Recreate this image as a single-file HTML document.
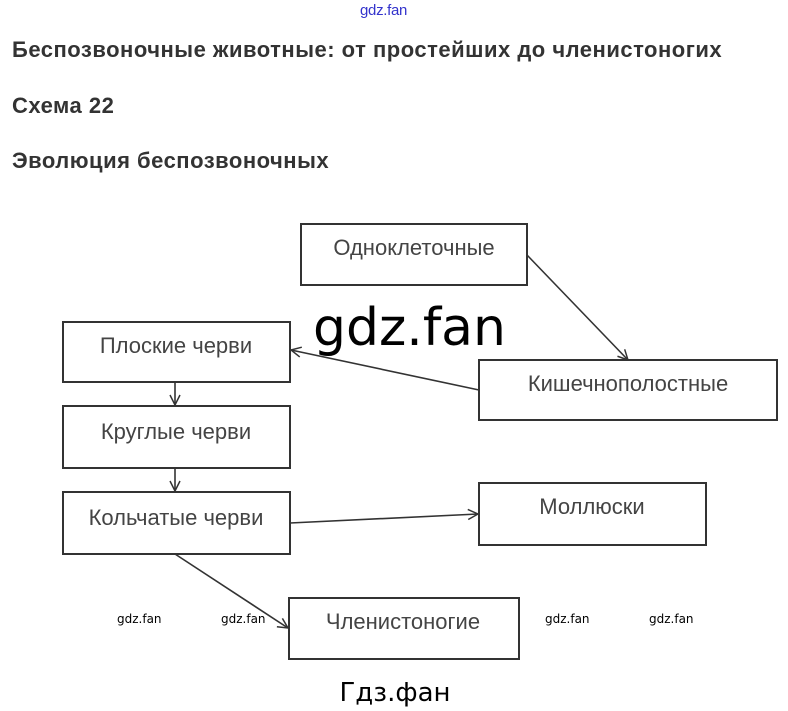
<!DOCTYPE html>
<html><head><meta charset="utf-8"><style>
body{margin:0;background:#fff;width:788px;height:711px;position:relative;overflow:hidden;font-family:"Liberation Sans",sans-serif}
.t{position:absolute;white-space:nowrap}
.h{font-weight:bold;font-size:22px;color:#333;left:12px;letter-spacing:0.5px}
</style></head><body>
<div class="t" style="left:360px;top:2px;font-size:15px;color:#3333cc;font-family:'Liberation Sans',sans-serif;letter-spacing:-0.3px">gdz.fan</div>
<div class="t h" style="top:37px">Беспозвоночные животные: от простейших до членистоногих</div>
<div class="t h" style="top:93px">Схема 22</div>
<div class="t h" style="top:148px">Эволюция беспозвоночных</div>
<svg width="788" height="711" style="position:absolute;left:0;top:0" xmlns="http://www.w3.org/2000/svg">
<defs><marker id="a" markerWidth="12" markerHeight="12" refX="11" refY="6" orient="auto" markerUnits="userSpaceOnUse"><path d="M1,1 L11,6 L1,11" fill="none" stroke="#333" stroke-width="1.5"/></marker></defs>
<g fill="none" stroke="#333" stroke-width="2">
<rect x="301" y="224" width="226" height="61"/>
<rect x="63" y="322" width="227" height="60"/>
<rect x="479" y="360" width="298" height="60"/>
<rect x="63" y="406" width="227" height="62"/>
<rect x="63" y="492" width="227" height="62"/>
<rect x="479" y="483" width="227" height="62"/>
<rect x="289" y="598" width="230" height="61"/>
</g>
<g stroke="#333" stroke-width="1.6" marker-end="url(#a)">
<line x1="527" y1="255" x2="628" y2="360"/>
<line x1="479" y1="390" x2="291" y2="350"/>
<line x1="175" y1="382" x2="175" y2="405"/>
<line x1="175" y1="468" x2="175" y2="491"/>
<line x1="290" y1="523" x2="478" y2="514"/>
<line x1="175" y1="554" x2="288" y2="628"/>
</g>
<g font-family="Liberation Sans, sans-serif" font-size="22" fill="#444" text-anchor="middle">
<text x="414" y="255">Одноклеточные</text>
<text x="176" y="353">Плоские черви</text>
<text x="628" y="391">Кишечнополостные</text>
<text x="176" y="439">Круглые черви</text>
<text x="176" y="525">Кольчатые черви</text>
<text x="592" y="514">Моллюски</text>
<text x="403" y="629">Членистоногие</text>
</g>
<text x="313" y="345" font-family="DejaVu Sans, sans-serif" font-size="52" fill="#000">gdz.fan</text>
<g font-family="DejaVu Sans, sans-serif" font-size="12" fill="#000">
<text x="117" y="623">gdz.fan</text>
<text x="221" y="623">gdz.fan</text>
<text x="545" y="623">gdz.fan</text>
<text x="649" y="623">gdz.fan</text>
</g>
<text x="395" y="701" text-anchor="middle" font-family="DejaVu Sans, sans-serif" font-size="26" fill="#000">Гдз.фан</text>
</svg>
</body></html>
